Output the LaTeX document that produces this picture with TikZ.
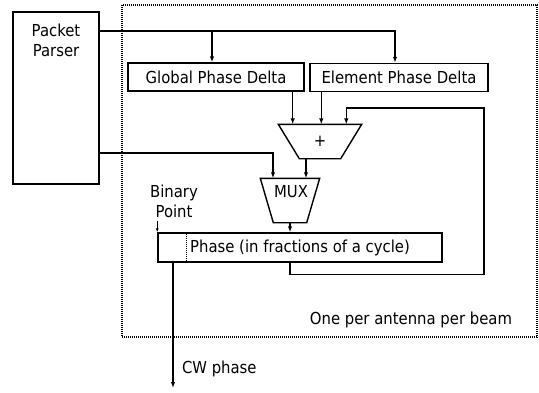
\documentclass[tikz,border=0pt]{standalone}
\usepackage{fontspec}
\setmainfont{DejaVu Sans}[FakeStretch=0.9]
\usetikzlibrary{arrows.meta}

\begin{document}
\begin{tikzpicture}[x=1pt,y=-1pt,line width=1.4pt,
  font=\fontsize{16.5}{20}\selectfont,
  >={Latex[length=6pt,width=4.5pt]},
  box/.style={draw,inner sep=0pt,minimum height=28pt},
  frame/.style={line width=1.2pt,dash pattern=on 1pt off 1pt}]
  \useasboundingbox (0,0) rectangle (539,392);

  % block repeated for every antenna and beam
  \draw[frame] (122,5) rectangle (537,337);
  \node[anchor=base east] (beam) at (516,324) {One per antenna per beam};

  \node[draw,minimum width=86pt,minimum height=172pt] (parser) at (56,98) {};
  \node[align=center] (parserlbl) at (56,40) {Packet\\Parser};

  \node[box,minimum width=176pt] (glob) at (216,77) {Global Phase Delta};
  \node[box,minimum width=178pt] (elem) at (399,77.5) {Element Phase Delta};

  % adder and mux, drawn as trapezoids round empty nodes
  \node[minimum width=82pt,minimum height=33pt] (add) at (320,141.5) {};
  \draw (add.north west) -- (add.north east) -- ([xshift=-21pt]add.south east)
    -- ([xshift=21pt]add.south west) -- cycle;
  \node (addlbl) at (add.center) {+};

  \node[minimum width=58pt,minimum height=43pt] (mux) at (290,200.5) {};
  \draw (mux.north west) -- (mux.north east) -- ([xshift=-13pt]mux.south east)
    -- ([xshift=13pt]mux.south west) -- cycle;
  \node[anchor=base] (muxlbl) at (291,197) {MUX};

  \node[box,minimum width=284pt,minimum height=29pt] (phase) at (300,247.5) {Phase (in fractions of a cycle)};
  \draw[frame] ([xshift=29pt]phase.north west) -- ([xshift=29pt]phase.south west);

  \node[align=center] (binpt) at (174,201) {Binary\\Point};
  \draw[->,line width=0.9pt,>={Latex[length=4pt,width=3pt]}] ([yshift=11pt]phase.north west) -- (phase.north west);

  % wiring
  \coordinate (gin) at ([xshift=-4pt]glob.north);
  \coordinate (ein) at ([xshift=-4pt]elem.north);
  \draw[->] (parser.east |- 0,31) -| (ein);
  \draw[->] (gin |- 0,31) -- (gin);

  \coordinate (gout) at ([xshift=-12pt]glob.south east);
  \coordinate (eout) at ([xshift=12pt]elem.south west);
  \draw[->] (gout) -- (gout |- add.north);
  \draw[->] (eout) -- (eout |- add.north);

  \coordinate (fbx) at (484,108);
  \draw[->] (mux.south |- phase.south) -- ++(0,12) -| (fbx) -| ([xshift=68pt]add.north west);

  \draw[->] (parser.east |- 0,153) -| ([xshift=-17pt]mux.north);
  \coordinate (aout) at ([xshift=-14pt]add.south);
  \draw[->] (aout) -- (aout |- mux.north);
  \draw[->] (mux.south) -- (mux.south |- phase.north);

  \coordinate (cw) at (173,388);
  \node[anchor=base west] (cwlbl) at (178,373) {CW phase};
  \draw[->] (phase.south -| cw) -- (cw);
\end{tikzpicture}
\end{document}
